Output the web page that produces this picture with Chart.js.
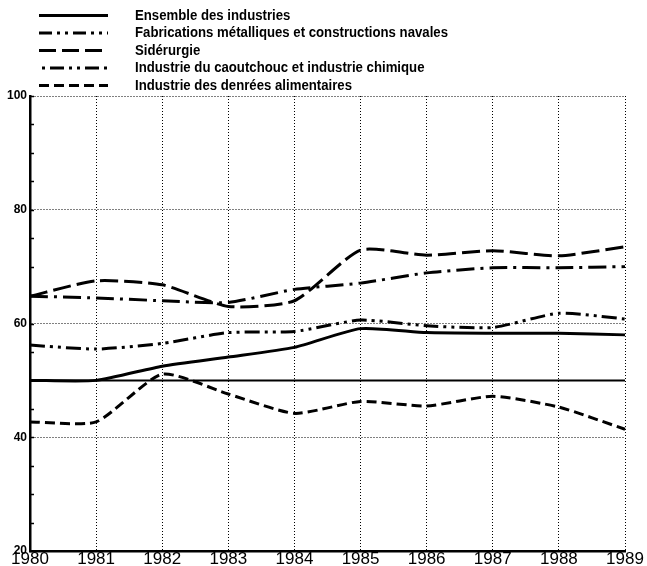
<!DOCTYPE html>
<html>
<head>
<meta charset="utf-8">
<script src="https://cdn.jsdelivr.net/npm/chart.js@4/dist/chart.umd.min.js"></script>
<style>
  html, body { margin: 0; padding: 0; background: #fff; }
  #chart { display: block; }
</style>
</head>
<body>
<canvas id="chart" width="647" height="566"></canvas>
<script>
// data
var years = ["1980", "1981", "1982", "1983", "1984", "1985", "1986", "1987", "1988", "1989"];
var ensemble = [50, 50, 52.5, 54.1, 55.8, 59.1, 58.4, 58.3, 58.3, 58.0];
var fabrications = [56.2, 55.5, 56.5, 58.4, 58.6, 60.6, 59.6, 59.3, 61.8, 60.8];
var siderurgie = [64.8, 67.5, 66.8, 63.0, 64.0, 72.9, 72.0, 72.8, 71.9, 73.5];
var caoutchouc = [64.8, 64.5, 64.0, 63.7, 66.0, 67.1, 68.9, 69.8, 69.8, 70.0];
var denrees = [42.7, 42.7, 51.1, 47.6, 44.2, 46.3, 45.5, 47.2, 45.3, 41.4];
var base = [50, 50, 50, 50, 50, 50, 50, 50, 50, 50];
var yLabels = [20, 40, 60, 80, 100];

var font = "'Liberation Sans', Arial, sans-serif";

function line(label, data, dash, width) {
  return {
    label: label,
    data: data,
    borderColor: "#000",
    backgroundColor: "#000",
    borderWidth: width,
    borderDash: dash,
    borderCapStyle: "butt",
    pointRadius: 0,
    tension: 0.2,
    fill: false
  };
}

// legend samples are a bit different from the plotted dash (start with a dot etc.)
var legendDash = [[], [13, 5, 3, 5, 3, 5], [17, 6], [0, 3, 3, 5, 14, 5, 3, 2], [10, 5]];

// legend drawn by hand, one row per series (narrow text like the original)
var legendPlugin = {
  id: "sideLegend",
  afterDraw: function(chart) {
    var ctx = chart.ctx;
    ctx.save();
    ctx.font = "bold 15px " + font;
    var widest = ctx.measureText(chart.data.datasets[1].label).width;
    var sx = 313 / widest;
    for (var i = 0; i < 5; i++) {
      var ds = chart.data.datasets[i];
      var y = 15.5 + i * 17.5;
      ctx.strokeStyle = "#000";
      ctx.lineWidth = 3;
      ctx.setLineDash(legendDash[i]);
      ctx.beginPath();
      ctx.moveTo(39, y);
      ctx.lineTo(108, y);
      ctx.stroke();
      ctx.setLineDash([]);
      ctx.save();
      ctx.translate(135, y);
      ctx.scale(sx, 1);
      ctx.fillStyle = "#000";
      ctx.textBaseline = "middle";
      ctx.fillText(ds.label, 0, 0);
      ctx.restore();
    }
    ctx.restore();
  }
};

// small tick marks every 5 units, inside the left axis
var minorTicks = {
  id: "minorTicks",
  afterDatasetsDraw: function(chart) {
    var ctx = chart.ctx;
    var sc = chart.scales.y;
    ctx.save();
    ctx.strokeStyle = "#000";
    ctx.lineWidth = 1.5;
    for (var v = sc.min; v <= sc.max; v += 5) {
      var py = Math.round(sc.getPixelForValue(v)) + 0.5;
      ctx.beginPath();
      ctx.moveTo(sc.right, py);
      ctx.lineTo(sc.right + 4, py);
      ctx.stroke();
    }
    ctx.restore();
  }
};

new Chart(document.getElementById("chart"), {
  type: "line",
  data: {
    labels: years,
    datasets: [
      line("Ensemble des industries", ensemble, [], 3),
      line("Fabrications métalliques et constructions navales", fabrications, [15, 5, 3, 5, 3, 5], 3),
      line("Sidérurgie", siderurgie, [18, 6], 3),
      line("Industrie du caoutchouc et industrie chimique", caoutchouc, [18, 6, 3, 6], 3),
      line("Industrie des denrées alimentaires", denrees, [10, 5], 3),
      line("base", base, [], 2)
    ]
  },
  options: {
    responsive: false,
    animation: false,
    layout: { padding: { top: 96, right: 22, left: 0, bottom: 0 } },
    plugins: {
      legend: { display: false },
      tooltip: { enabled: false }
    },
    scales: {
      x: {
        offset: false,
        afterFit: function(scale) { scale.height = 15; },
        grid: {
          color: function(c) { return c.index === 0 ? "rgba(0,0,0,0)" : "#000"; },
          lineWidth: 1,
          drawTicks: false
        },
        border: { display: true, color: "#000", width: 2.5, dash: [1, 2] },
        ticks: {
          color: "#000",
          padding: 0,
          maxRotation: 0,
          font: { family: font, size: 17, lineHeight: 1 }
        }
      },
      y: {
        min: 20,
        max: 100,
        afterFit: function(scale) { scale.width = 30; },
        afterBuildTicks: function(scale) {
          scale.ticks = yLabels.map(function(v) { return { value: v }; });
        },
        grid: {
          color: "#000",
          lineWidth: 1,
          drawTicks: false
        },
        border: { display: true, color: "#000", width: 2.5, dash: [1, 2] },
        ticks: {
          color: "#000",
          padding: 3,
          font: { family: font, size: 12, weight: "bold" }
        }
      }
    }
  },
  plugins: [legendPlugin, minorTicks]
});
</script>
</body>
</html>
